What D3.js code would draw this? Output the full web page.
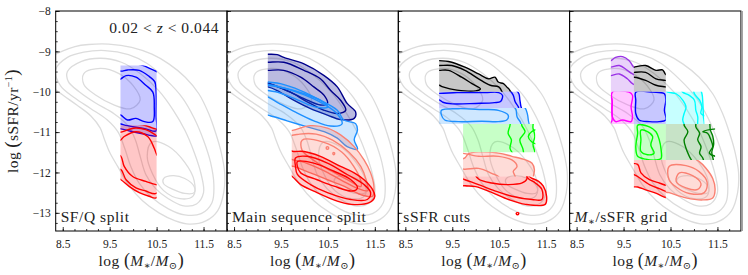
<!DOCTYPE html>
<html>
<head>
<meta charset="utf-8">
<script src="https://cdn.jsdelivr.net/npm/d3@7"></script>
<style>
body { margin: 0; background: #fff; }
svg text { font-family: "Liberation Serif", "DejaVu Serif", serif; fill: #222; }
</style>
</head>
<body>
<div id="vis"></div>
<script>
// ---- ticks and labels
var massTicks = [8.5, 9.5, 10.5, 11.5];
var massMinor = d3.range(8.5, 12.01, 0.25);
var ssfrTicks = [-13, -12, -11, -10, -9, -8];
var ssfrMinor = d3.range(-13.25, -7.99, 0.25);
var panelNames = ["SF/Q split", "Main sequence split", "sSFR cuts", "grid"];

// ---- full sample (grey) contours, [log M*, log sSFR]
var greyOuter = [[8.1,-9.5],[8.25,-9.15],[8.48,-9.0],[8.76,-8.88],[9.05,-8.83],[9.48,-8.82],[9.97,-8.9],[10.4,-9.07],[10.76,-9.31],[11.11,-9.64],[11.4,-10.05],[11.61,-10.54],[11.76,-11.03],[11.88,-11.52],[11.95,-12.0],[11.93,-12.5],[11.8,-12.95],[11.55,-13.2],[11.2,-13.28],[10.9,-13.2],[10.55,-13.0],[10.2,-12.7],[9.9,-12.3],[9.67,-11.85],[9.5,-11.5],[9.38,-11.15],[9.3,-10.9],[9.1,-10.6],[8.8,-10.33],[8.5,-10.08],[8.25,-9.85]];
var greyMid = [[8.35,-9.45],[8.6,-9.15],[8.95,-9.02],[9.4,-8.98],[9.9,-9.08],[10.3,-9.3],[10.7,-9.7],[11.05,-10.15],[11.3,-10.65],[11.5,-11.2],[11.65,-11.75],[11.72,-12.3],[11.68,-12.75],[11.45,-13.02],[11.1,-13.05],[10.75,-12.9],[10.4,-12.62],[10.12,-12.25],[9.95,-11.85],[9.82,-11.4],[9.68,-11.0],[9.45,-10.7],[9.1,-10.42],[8.75,-10.15],[8.45,-9.85]];
var greyInner = [[8.6,-9.5],[8.9,-9.25],[9.3,-9.17],[9.75,-9.27],[10.15,-9.55],[10.55,-9.98],[10.85,-10.45],[11.1,-10.95],[11.3,-11.5],[11.45,-12.05],[11.5,-12.5],[11.35,-12.78],[11.05,-12.82],[10.75,-12.65],[10.48,-12.4],[10.27,-12.05],[10.15,-11.6],[10.05,-11.2],[9.9,-10.85],[9.6,-10.55],[9.2,-10.28],[8.85,-10.0],[8.62,-9.75]];
var greySF = [[8.95,-9.55],[9.3,-9.42],[9.7,-9.55],[10.0,-9.85],[10.15,-10.2],[9.95,-10.42],[9.6,-10.33],[9.2,-10.08],[8.95,-9.82]];
var greyQ = [[10.4,-11.25],[10.75,-11.35],[11.1,-11.75],[11.3,-12.2],[11.28,-12.58],[11.0,-12.65],[10.65,-12.45],[10.42,-12.05],[10.3,-11.6]];
var greyPeak = [[10.65,-12.15],[10.85,-12.08],[11.1,-12.15],[11.3,-12.35],[11.3,-12.5],[11.1,-12.52],[10.85,-12.42],[10.65,-12.28]];
var greyContours = [greyOuter, greyMid, greyInner, greySF, greyQ, greyPeak];

// ---- panel 1: SF / Q split   (box = [M min, M max, sSFR min, sSFR max])
var sfqBlueBox = [9.73, 10.5, -11.2, -9.35];
var sfqBlue = [
  [[9.6,-9.2],[9.9,-9.28],[10.15,-9.33],[10.35,-9.42],[10.6,-9.6],[10.7,-10.3],[10.62,-11.05],[10.49,-11.1],[10.2,-11.04],[9.95,-10.98],[9.74,-10.92],[9.6,-10.9]],
  [[9.6,-9.45],[9.74,-9.49],[9.88,-9.46],[10.13,-9.47],[10.34,-9.62],[10.46,-9.75],[10.49,-10.0],[10.49,-10.6],[10.49,-10.97],[10.27,-10.92],[10.06,-10.88],[9.88,-10.84],[9.74,-10.8],[9.6,-10.76]],
  [[9.6,-9.75],[9.74,-9.68],[9.85,-9.6],[10.06,-9.64],[10.27,-9.84],[10.42,-10.01],[10.45,-10.38],[10.42,-10.74],[10.24,-10.74],[10.06,-10.66],[9.88,-10.7],[9.74,-10.58],[9.6,-10.5]]
];
var sfqRedBox = [9.73, 10.5, -12.8, -10.83];
var sfqRed = [
  [[9.6,-10.8],[9.92,-10.8],[10.2,-10.82],[10.42,-10.9],[10.6,-11.0],[10.7,-12.2],[10.49,-12.63],[10.34,-12.59],[10.13,-12.5],[9.92,-12.35],[9.74,-12.18],[9.6,-12.1]],
  [[9.6,-11.0],[9.74,-11.0],[9.92,-10.93],[10.06,-10.9],[10.27,-10.94],[10.45,-11.05],[10.6,-11.2],[10.65,-12.0],[10.49,-12.52],[10.27,-12.46],[10.06,-12.38],[9.85,-12.18],[9.74,-11.93],[9.6,-11.9]],
  [[9.6,-11.3],[9.74,-11.19],[9.81,-11.11],[10.06,-10.99],[10.31,-11.11],[10.45,-11.4],[10.5,-11.55],[10.65,-11.8],[10.65,-12.3],[10.49,-12.3],[10.27,-12.22],[9.99,-12.1],[9.81,-11.85],[9.74,-11.6],[9.6,-11.5]]
];

// ---- panel 2: main sequence split
var msSFBox = [9.22, 12, -13.45, -8];
var msQBox = [9.73, 12, -13.45, -8];
var msNavy = [
  [[9.0,-9.07],[9.22,-9.07],[9.42,-9.08],[9.56,-9.15],[9.99,-9.31],[10.42,-9.6],[10.7,-9.88],[10.91,-10.29],[11.09,-10.5],[11.06,-10.66],[10.77,-10.69],[10.49,-10.58],[10.13,-10.42],[9.77,-10.21],[9.42,-9.97],[9.22,-9.88],[9.0,-9.85]],
  [[9.0,-9.27],[9.22,-9.27],[9.56,-9.27],[9.99,-9.47],[10.34,-9.68],[10.56,-9.97],[10.77,-10.21],[10.88,-10.46],[10.7,-10.54],[10.42,-10.46],[10.06,-10.25],[9.7,-10.01],[9.35,-9.84],[9.22,-9.8],[9.0,-9.78]],
  [[9.0,-9.47],[9.22,-9.47],[9.56,-9.47],[9.92,-9.64],[10.2,-9.88],[10.42,-10.09],[10.49,-10.29],[10.34,-10.33],[10.06,-10.21],[9.7,-10.01],[9.35,-9.84],[9.22,-9.78],[9.0,-9.75]]
];
var msDodger = [
  [[9.0,-9.72],[9.22,-9.76],[9.49,-9.8],[9.92,-9.97],[10.34,-10.21],[10.7,-10.46],[10.84,-10.7],[11.09,-10.79],[11.13,-10.95],[11.06,-11.19],[11.13,-11.42],[10.91,-11.36],[10.7,-11.15],[10.42,-10.99],[10.06,-10.87],[9.63,-10.72],[9.35,-10.62],[9.22,-10.58],[9.0,-10.5]],
  [[9.0,-9.8],[9.22,-9.82],[9.6,-9.92],[10.0,-10.08],[10.4,-10.3],[10.7,-10.55],[10.8,-10.8],[10.55,-10.85],[10.2,-10.72],[9.8,-10.5],[9.45,-10.28],[9.22,-10.13],[9.0,-10.05]],
  [[9.0,-9.84],[9.22,-9.84],[9.6,-9.92],[10.0,-10.05],[10.35,-10.22],[10.5,-10.38],[10.25,-10.38],[9.85,-10.2],[9.45,-10.02],[9.22,-9.97],[9.0,-9.9]]
];
var msSalmon = [
  [[9.6,-11.0],[9.77,-10.95],[10.13,-10.84],[10.49,-10.9],[10.77,-11.07],[11.06,-11.36],[11.27,-11.69],[11.41,-12.01],[11.48,-12.34],[11.45,-12.59],[11.2,-12.55],[10.84,-12.34],[10.49,-12.18],[10.13,-12.01],[9.77,-11.85],[9.6,-11.8]],
  [[9.6,-11.15],[9.9,-11.05],[10.25,-11.05],[10.6,-11.2],[10.95,-11.5],[11.2,-11.85],[11.32,-12.2],[11.35,-12.45],[11.15,-12.4],[10.8,-12.2],[10.4,-11.95],[10.0,-11.75],[9.6,-11.6]],
  [[9.95,-11.2],[10.4,-11.25],[10.8,-11.5],[11.05,-11.85],[11.2,-12.2],[11.2,-12.35],[10.95,-12.2],[10.55,-11.95],[10.2,-11.7],[9.95,-11.45]],
  [[10.47,-11.37],[10.51,-11.37],[10.51,-11.42],[10.47,-11.42]],
  [[10.61,-11.51],[10.64,-11.51],[10.64,-11.55],[10.61,-11.55]]
];
var msRed = [
  [[9.6,-11.45],[9.77,-11.48],[9.99,-11.48],[10.34,-11.6],[10.77,-11.85],[11.06,-12.01],[11.27,-12.18],[11.45,-12.42],[11.5,-12.59],[11.38,-12.75],[11.0,-12.79],[10.7,-12.71],[10.2,-12.46],[9.92,-12.3],[9.74,-12.1],[9.6,-12.0]],
  [[9.81,-11.64],[10.06,-11.6],[10.49,-11.77],[10.91,-12.05],[11.27,-12.3],[11.41,-12.5],[11.34,-12.67],[10.99,-12.67],[10.49,-12.5],[10.13,-12.3],[9.85,-12.05],[9.81,-11.85]],
  [[9.85,-11.73],[10.2,-11.77],[10.63,-11.97],[10.99,-12.18],[11.13,-12.38],[11.02,-12.46],[10.63,-12.34],[10.27,-12.18],[9.92,-12.01],[9.85,-11.85]]
];

// ---- panel 3: sSFR cuts
var cutBlackBox = [9.22, 10.9, -10.0, -8];
var cutBlack = [
  [[9.0,-9.2],[9.22,-9.23],[9.42,-9.25],[9.77,-9.39],[10.06,-9.56],[10.27,-9.68],[10.41,-9.64],[10.48,-9.76],[10.59,-9.8],[10.66,-9.88],[10.73,-9.97],[10.8,-10.2],[9.0,-10.2]],
  [[9.0,-9.35],[9.22,-9.35],[9.49,-9.35],[9.77,-9.47],[10.06,-9.68],[10.31,-9.84],[10.49,-9.88],[10.56,-10.0],[10.6,-10.2],[9.0,-10.2]],
  [[9.0,-9.47],[9.22,-9.47],[9.42,-9.47],[9.7,-9.64],[9.92,-9.8],[10.1,-9.93],[10.0,-9.98],[9.6,-9.96],[9.3,-9.88],[9.22,-9.84],[9.0,-9.8]]
];
var cutBlueBox = [9.22, 11.0, -10.4, -10.0];
var cutBlue = [
  [[9.0,-9.9],[10.5,-9.9],[10.84,-9.95],[10.92,-10.05],[10.94,-10.2],[10.96,-10.35],[10.98,-10.5],[9.0,-10.5]],
  [[10.4,-9.9],[10.73,-9.98],[10.8,-10.09],[10.84,-10.25],[10.91,-10.38],[10.92,-10.5],[11.2,-10.5],[11.2,-9.9]],
  [[9.0,-10.02],[9.22,-10.04],[9.6,-10.02],[10.2,-10.02],[10.49,-10.02],[10.57,-10.09],[10.53,-10.24],[10.4,-10.27],[10.0,-10.29],[9.5,-10.3],[9.3,-10.26],[9.22,-10.2],[9.0,-10.2]]
];
var cutDodgerBox = [9.22, 11.15, -10.8, -10.4];
var cutDodger = [
  [[9.0,-10.3],[10.9,-10.3],[11.05,-10.4],[11.1,-10.55],[11.12,-10.7],[11.13,-10.9],[9.0,-10.9]],
  [[10.8,-10.3],[10.86,-10.45],[10.88,-10.62],[10.95,-10.75],[11.0,-10.9],[11.3,-10.9],[11.3,-10.3]],
  [[9.27,-10.46],[9.63,-10.42],[10.13,-10.44],[10.48,-10.46],[10.69,-10.58],[10.66,-10.7],[10.48,-10.74],[10.13,-10.73],[9.63,-10.74],[9.34,-10.7],[9.27,-10.58]]
];
var cutGreenBox = [9.73, 11.27, -11.5, -10.8];
var cutGreen = [
  [[9.6,-10.7],[11.2,-10.7],[11.22,-10.9],[11.26,-11.1],[11.22,-11.3],[11.25,-11.6],[9.6,-11.6]],
  [[10.73,-10.7],[10.73,-10.83],[10.69,-11.03],[10.76,-11.19],[10.73,-11.4],[10.8,-11.6],[9.6,-11.6],[9.6,-10.7]],
  [[10.98,-10.7],[10.98,-10.83],[11.05,-10.99],[10.94,-11.19],[11.01,-11.44],[11.0,-11.6],[9.6,-11.6],[9.6,-10.7]],
  [[11.3,-10.95],[11.19,-10.99],[11.12,-11.11],[11.19,-11.24],[11.3,-11.28]]
];
var cutSalmonBox = [9.73, 11.3, -12.1, -11.5];
var cutSalmon = [
  [[9.6,-11.72],[9.77,-11.64],[9.84,-11.54],[10.06,-11.49],[10.49,-11.52],[10.77,-11.6],[11.06,-11.69],[11.2,-11.77],[11.25,-11.93],[11.23,-12.1],[11.25,-12.3],[9.6,-12.3]],
  [[9.6,-11.55],[10.06,-11.6],[10.49,-11.6],[10.77,-11.69],[10.88,-11.85],[10.8,-11.97],[10.84,-12.1],[10.84,-12.3],[9.6,-12.3]],
  [[9.6,-11.9],[9.77,-11.92],[10.06,-11.9],[10.34,-12.02],[10.5,-12.12],[10.5,-12.3],[9.6,-12.3]]
];
var cutRedBox = [9.73, 11.6, -13.45, -12.1];
var cutRed = [
  [[9.6,-12.0],[11.0,-12.0],[11.19,-12.14],[11.34,-12.22],[11.44,-12.34],[11.51,-12.59],[11.48,-12.79],[11.06,-12.79],[10.7,-12.67],[10.35,-12.5],[10.0,-12.35],[9.77,-12.33],[9.6,-12.3]],
  [[9.6,-12.1],[9.77,-12.18],[10.06,-12.3],[10.42,-12.46],[10.77,-12.59],[11.2,-12.67],[11.41,-12.67],[11.41,-12.42],[11.27,-12.26],[11.13,-12.16],[11.0,-12.0],[9.6,-12.0]],
  [[10.0,-12.03],[10.06,-12.16],[10.34,-12.26],[10.7,-12.3],[10.99,-12.26],[11.09,-12.16],[11.05,-12.03]],
  [[10.87,-13.0],[10.91,-13.0],[10.91,-13.04],[10.87,-13.04]]
];

// ---- panel 4: M* / sSFR grid
var gridPurpleBox = [9.23, 9.72, -10.0, -8];
var gridPurple = [
  [[9.1,-9.3],[9.23,-9.23],[9.33,-9.15],[9.48,-9.13],[9.62,-9.23],[9.69,-9.35],[9.8,-9.5],[9.8,-10.2],[9.1,-10.2]],
  [[9.1,-9.4],[9.23,-9.39],[9.41,-9.35],[9.58,-9.47],[9.69,-9.56],[9.85,-9.6],[9.85,-7.8],[9.1,-7.8]],
  [[9.1,-9.62],[9.23,-9.6],[9.41,-9.56],[9.58,-9.68],[9.69,-9.8],[9.85,-9.85],[9.85,-7.8],[9.1,-7.8]]
];
var gridMagentaBox = [9.23, 9.72, -10.8, -10.0];
var gridMagenta = [
  [[9.1,-9.9],[9.8,-9.9],[9.8,-10.9],[9.1,-10.9]],
  [[9.26,-10.01],[9.62,-10.01],[9.69,-10.09],[9.66,-10.38],[9.69,-10.62],[9.66,-10.74],[9.48,-10.7],[9.33,-10.74],[9.26,-10.62],[9.26,-10.29]],
  [[9.1,-10.2],[9.24,-10.15],[9.25,-10.4],[9.24,-10.75],[9.1,-10.75]]
];
var gridBlackBox = [9.72, 10.4, -10.0, -8];
var gridBlack = [
  [[9.6,-9.45],[9.73,-9.39],[9.97,-9.35],[10.19,-9.47],[10.33,-9.46],[10.39,-9.56],[10.5,-9.7],[10.5,-10.2],[9.6,-10.2]],
  [[9.6,-9.55],[9.73,-9.52],[9.97,-9.52],[10.19,-9.68],[10.39,-9.72],[10.5,-9.75],[10.5,-7.8],[9.6,-7.8]],
  [[9.6,-9.65],[9.73,-9.64],[9.97,-9.72],[10.19,-9.84],[10.39,-9.88],[10.5,-9.9],[10.5,-7.8],[9.6,-7.8]]
];
var gridBlueBox = [9.72, 10.4, -10.8, -10.0];
var gridBlue = [
  [[9.6,-9.9],[10.5,-9.9],[10.5,-10.9],[9.6,-10.9]],
  [[9.76,-10.01],[10.12,-10.01],[10.37,-10.05],[10.4,-10.21],[10.37,-10.46],[10.4,-10.7],[10.26,-10.74],[10.05,-10.74],[9.83,-10.7],[9.76,-10.54],[9.76,-10.21]]
];
var gridCyanBox = [10.4, 11.22, -10.8, -10.0];
var gridCyan = [
  [[10.3,-9.9],[11.1,-9.9],[11.17,-10.05],[11.19,-10.3],[11.2,-10.6],[11.2,-10.9],[10.3,-10.9]],
  [[10.35,-9.95],[10.44,-10.01],[10.62,-10.05],[10.76,-10.21],[10.83,-10.38],[10.79,-10.54],[10.76,-10.7],[10.8,-10.9],[10.3,-10.9]],
  [[10.7,-9.9],[10.76,-10.01],[10.9,-10.09],[11.01,-10.21],[11.04,-10.46],[11.08,-10.62],[11.1,-10.9],[11.4,-10.9],[11.4,-9.9]],
  [[11.0,-9.9],[11.01,-10.05],[11.12,-10.21],[11.17,-10.38],[11.15,-10.54],[11.4,-10.6],[11.4,-9.9]]
];
var gridGreenBox = [9.72, 10.4, -11.69, -10.8];
var gridGreen = [
  [[9.6,-10.7],[10.5,-10.7],[10.5,-11.8],[9.6,-11.8]],
  [[9.8,-10.83],[10.05,-10.87],[10.19,-10.99],[10.26,-11.19],[10.3,-11.44],[10.3,-11.65],[10.19,-11.69],[9.97,-11.67],[9.8,-11.6],[9.76,-11.36],[9.8,-11.03]],
  [[9.87,-10.95],[10.01,-10.99],[10.12,-11.11],[10.08,-11.32],[10.15,-11.52],[10.01,-11.56],[9.87,-11.48],[9.87,-11.19]]
];
var gridDarkGreenBox = [10.4, 11.45, -11.69, -10.8];
var gridDarkGreen = [
  [[10.3,-10.7],[11.3,-10.7],[11.35,-10.95],[11.4,-11.1],[11.42,-11.3],[11.38,-11.5],[11.4,-11.8],[10.3,-11.8]],
  [[10.8,-10.7],[10.79,-10.83],[10.87,-10.99],[10.79,-11.19],[10.83,-11.4],[10.9,-11.6],[10.97,-11.8],[10.3,-11.8],[10.3,-10.7]],
  [[11.03,-10.7],[11.04,-10.87],[11.12,-11.03],[11.08,-11.19],[11.15,-11.36],[11.12,-11.52],[11.19,-11.65],[11.2,-11.8],[10.3,-11.8],[10.3,-10.7]],
  [[11.19,-10.99],[11.29,-11.03],[11.36,-11.19],[11.4,-11.36],[11.33,-11.52],[11.6,-11.6],[11.6,-10.95]]
];
var gridRedBox = [9.72, 10.4, -13.45, -11.69];
var gridRed = [
  [[9.6,-11.6],[10.5,-11.6],[10.5,-12.62],[10.4,-12.62],[10.2,-12.52],[9.97,-12.43],[9.8,-12.36],[9.6,-12.33]],
  [[9.6,-11.95],[9.8,-12.1],[10.05,-12.3],[10.26,-12.4],[10.5,-12.48],[10.5,-11.6],[9.6,-11.6]],
  [[9.6,-11.75],[9.8,-11.8],[9.87,-12.01],[10.05,-12.18],[10.26,-12.26],[10.5,-12.32],[10.5,-11.6],[9.6,-11.6]]
];
var gridSalmonBox = [10.4, 11.6, -13.45, -11.69];
var gridSalmon = [
  [[10.3,-11.6],[10.9,-11.6],[11.1,-11.72],[11.26,-11.9],[11.4,-12.15],[11.45,-12.42],[11.4,-12.63],[11.19,-12.68],[10.83,-12.63],[10.47,-12.5],[10.3,-12.45]],
  [[10.47,-11.85],[10.83,-11.83],[11.11,-11.98],[11.28,-12.24],[11.22,-12.5],[10.9,-12.52],[10.62,-12.36],[10.47,-12.18]],
  [[10.69,-12.01],[10.97,-12.08],[11.15,-12.28],[11.08,-12.42],[10.83,-12.38],[10.62,-12.22]]
];

// groups per panel (drawn in order)
var panels = [
  [ {c:"#0000ff", a:0.22, box:sfqBlueBox, lv:sfqBlue},
    {c:"#ff0000", a:0.22, box:sfqRedBox, lv:sfqRed} ],
  [ {c:"#00008b", a:0.27, box:msSFBox, lv:msNavy},
    {c:"#1e90ff", a:0.22, box:msSFBox, lv:msDodger},
    {c:"#fa8072", a:0.28, box:msQBox, lv:msSalmon},
    {c:"#ff0000", a:0.2, box:msQBox, lv:msRed} ],
  [ {c:"#000000", a:0.22, box:cutBlackBox, lv:cutBlack},
    {c:"#0000ff", a:0.22, box:cutBlueBox, lv:cutBlue},
    {c:"#1e90ff", a:0.22, box:cutDodgerBox, lv:cutDodger},
    {c:"#00ff00", a:0.22, box:cutGreenBox, lv:cutGreen},
    {c:"#fa8072", a:0.28, box:cutSalmonBox, lv:cutSalmon},
    {c:"#ff0000", a:0.22, box:cutRedBox, lv:cutRed} ],
  [ {c:"#9a32e6", a:0.22, box:gridPurpleBox, lv:gridPurple},
    {c:"#ff00ff", a:0.22, box:gridMagentaBox, lv:gridMagenta},
    {c:"#000000", a:0.22, box:gridBlackBox, lv:gridBlack},
    {c:"#0000ff", a:0.22, box:gridBlueBox, lv:gridBlue},
    {c:"#00ffff", a:0.22, box:gridCyanBox, lv:gridCyan},
    {c:"#00ff00", a:0.22, box:gridGreenBox, lv:gridGreen},
    {c:"#008000", a:0.22, box:gridDarkGreenBox, lv:gridDarkGreen},
    {c:"#ff0000", a:0.22, box:gridRedBox, lv:gridRed},
    {c:"#fa8072", a:0.28, box:gridSalmonBox, lv:gridSalmon} ]
];

// Layout
var panelLeft = [55.7, 227, 398.3, 569.6],
    pw = 171.3,
    marginTop = 11,
    ph = 220;

var x = d3.scaleLinear().domain([8.35, 12]).range([0, pw]);
var y = d3.scaleLinear().domain([-13.45, -8]).range([ph, 0]);

var line = d3.line()
  .x(function(d) { return x(d[0]); })
  .y(function(d) { return y(d[1]); })
  .curve(d3.curveCatmullRomClosed.alpha(0.5));

var svg = d3.select("#vis").append("svg")
  .attr("width", 748)
  .attr("height", 275);
var defs = svg.append("defs");

panels.forEach(function(groups, p) {
  var g = svg.append("g")
    .attr("transform", "translate(" + panelLeft[p] + "," + marginTop + ")");

  defs.append("clipPath").attr("id", "pc" + p)
    .append("rect").attr("width", pw).attr("height", ph);

  var body = g.append("g").attr("clip-path", "url(#pc" + p + ")");

  body.selectAll(".grey")
    .data(greyContours)
    .enter().append("path")
    .attr("class", "grey")
    .attr("d", line)
    .attr("fill", "none")
    .attr("stroke", "#dcdcdc")
    .attr("stroke-width", 1.3);

  groups.forEach(function(grp, k) {
    var b = grp.box, id = "c" + p + "_" + k;
    defs.append("clipPath").attr("id", id)
      .append("rect")
      .attr("x", x(b[0]))
      .attr("y", y(b[3]))
      .attr("width", x(b[1]) - x(b[0]))
      .attr("height", y(b[2]) - y(b[3]));

    var gg = body.append("g").attr("clip-path", "url(#" + id + ")");
    gg.append("path")
      .attr("d", line(grp.lv[0]))
      .attr("fill", grp.c)
      .attr("fill-opacity", grp.a);
    gg.selectAll(".lv")
      .data(grp.lv)
      .enter().append("path")
      .attr("class", "lv")
      .attr("d", line)
      .attr("fill", "none")
      .attr("stroke", grp.c)
      .attr("stroke-width", 1.4)
      .attr("stroke-linejoin", "round");
  });

  // axes, ticks inward
  var xMinor = g.append("g").attr("transform", "translate(0," + ph + ")")
    .call(d3.axisBottom(x).tickValues(massMinor).tickSize(-2).tickFormat(""));
  var xMajor = g.append("g").attr("transform", "translate(0," + ph + ")")
    .call(d3.axisBottom(x).tickValues(massTicks).tickSize(-4).tickPadding(9).tickFormat(d3.format(".1f")));
  var yMinor = g.append("g")
    .call(d3.axisLeft(y).tickValues(ssfrMinor).tickSize(-2).tickFormat(""));
  var yMajor = g.append("g")
    .call(d3.axisLeft(y).tickValues(ssfrTicks).tickSize(-4).tickPadding(5)
      .tickFormat(p == 0 ? d3.format("d") : ""));

  [xMinor, xMajor, yMinor, yMajor].forEach(function(a) {
    a.select(".domain").remove();
    a.attr("font-family", null).attr("font-size", 11.5);
    a.selectAll("line").attr("stroke", "#000").attr("stroke-width", 0.8);
  });

  g.append("rect")
    .attr("width", pw).attr("height", ph)
    .attr("fill", "none").attr("stroke", "#000").attr("stroke-width", 1);

  // x label
  var xl = g.append("text")
    .attr("x", pw / 2).attr("y", ph + 35)
    .attr("text-anchor", "middle").attr("font-size", 15.5)
    .attr("letter-spacing", 0.4);
  xl.append("tspan").text("log ");
  xl.append("tspan").attr("font-size", 18).text("(");
  xl.append("tspan").attr("font-style", "italic").text("M");
  xl.append("tspan").attr("font-size", 10).attr("dy", 3).text("∗");
  xl.append("tspan").attr("dy", -3).text("/");
  xl.append("tspan").attr("font-style", "italic").text("M");
  xl.append("tspan").attr("font-size", 10).attr("dy", 3).text("⊙");
  xl.append("tspan").attr("font-size", 18).attr("dy", -3).text(")");

  // panel name
  var nm = g.append("text")
    .attr("x", 5).attr("y", ph - 9)
    .attr("font-size", 15.5)
    .attr("letter-spacing", 0.55);
  if (p == 3) {
    nm.append("tspan").attr("font-style", "italic").text("M");
    nm.append("tspan").attr("font-size", 10).attr("dy", 3).text("∗");
    nm.append("tspan").attr("dy", -3).text("/sSFR " + panelNames[p]);
  } else {
    nm.text(panelNames[p]);
  }
});

// redshift label
var zl = svg.append("text")
  .attr("x", panelLeft[0] + pw - 8).attr("y", marginTop + 22)
  .attr("text-anchor", "end").attr("font-size", 15.5)
  .attr("letter-spacing", 0.55);
zl.append("tspan").text("0.02 < ");
zl.append("tspan").attr("font-style", "italic").text("z");
zl.append("tspan").text(" < 0.044");

// y label
var yl = svg.append("text")
  .attr("transform", "translate(18," + (marginTop + ph / 2) + ") rotate(-90)")
  .attr("text-anchor", "middle").attr("font-size", 15.5)
  .attr("letter-spacing", 0.4);
yl.append("tspan").text("log ");
yl.append("tspan").attr("font-size", 19).text("(");
yl.append("tspan").text("sSFR/yr");
yl.append("tspan").attr("font-size", 10).attr("dy", -6).text("−1");
yl.append("tspan").attr("font-size", 19).attr("dy", 6).text(")");

// right edge of the figure
svg.append("line")
  .attr("x1", panelLeft[3] + pw + 1).attr("x2", panelLeft[3] + pw + 1)
  .attr("y1", marginTop).attr("y2", marginTop + ph)
  .attr("stroke", "#999").attr("stroke-width", 2);
</script>
</body>
</html>
